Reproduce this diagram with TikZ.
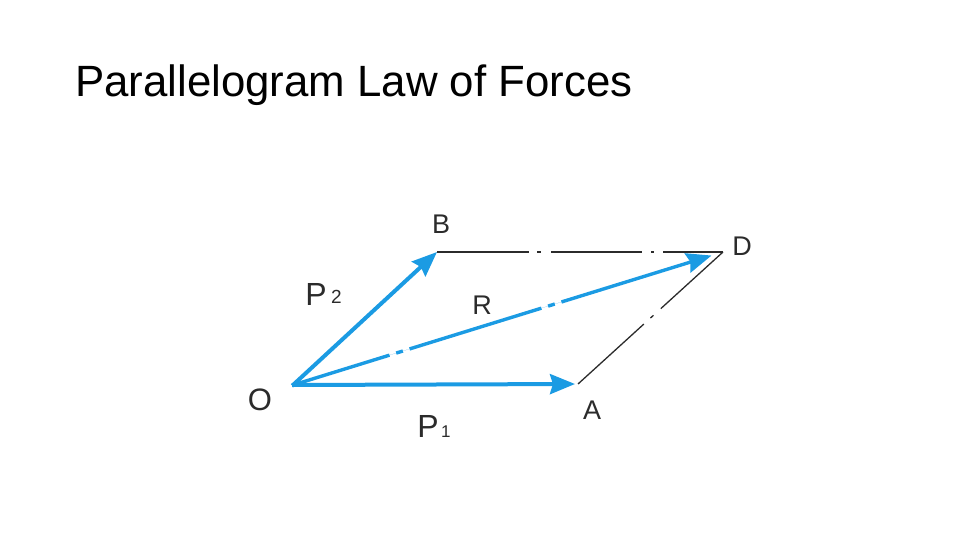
\documentclass[tikz,border=0pt]{standalone}
\usepackage{fontspec}
\setmainfont{Liberation Sans}
\usetikzlibrary{arrows.meta,positioning}
\definecolor{forceblue}{HTML}{1B9BE3}
\definecolor{inkgray}{HTML}{2B2B2B}

\begin{document}
\begin{tikzpicture}[x=1pt,y=-1pt,>={Stealth[length=25pt,width=20pt,inset=3pt]},
  force/.style={->,draw=forceblue,fill=forceblue,line width=4pt,shorten <=-1pt},
  closing/.style={draw=inkgray,line width=1.3pt},
  letter/.style={inner sep=0pt,text=inkgray,font=\fontsize{27}{27}\selectfont},
  sub/.style={inner sep=0pt,text=inkgray,font=\fontsize{19}{19}\selectfont}]
  \useasboundingbox (0,0) rectangle (960,540);
  \node[anchor=base west,inner sep=0pt,font=\fontsize{43.8}{43.8}\selectfont] (title) at (75,97) {Parallelogram Law of Forces};
  \coordinate (O) at (293,385);
  \coordinate (A) at (578,384);
  \coordinate (B) at (437,252);
  \coordinate (D) at (723,252);
  % closing sides
  \draw[closing,dash pattern=on 92pt off 8pt on 4pt off 10pt on 91pt off 9pt on 3pt off 9pt on 70pt] (B) -- (D);
  \draw[closing,dash pattern=on 89pt off 9pt on 4pt off 10pt on 90pt] (A) -- (D);
  % forces
  \draw[force] (O) -- (B);
  \draw[force,shorten >=3pt] (O) -- (A);
  \draw[force,line width=3.4pt,shorten >=12pt,dash pattern=on 102pt off 7pt on 7pt off 7pt on 138pt off 7pt on 7pt off 7pt on 200pt] (O) -- (D);
  % labels
  \node[letter,font=\fontsize{31}{31}\selectfont] (labelO) at (260,400) {O};
  \node[letter] (labelA) at (592,410) {A};
  \node[letter] (labelB) at (441,224) {B};
  \node[letter] (labelD) at (742,246) {D};
  \node[letter] (labelR) at (482,305) {R};
  \node[letter,font=\fontsize{32}{32}\selectfont] (labelPtwo) at (316,294) {P};
  \node[sub] [right=4pt of labelPtwo.east,anchor=west,yshift=-3pt] (subtwo) {2};
  \node[letter,font=\fontsize{32}{32}\selectfont] (labelPone) at (428,426) {P};
  \node[sub,font=\fontsize{17}{17}\selectfont] [right=2pt of labelPone.east,anchor=west,yshift=-6pt] (subone) {1};
\end{tikzpicture}
\end{document}
